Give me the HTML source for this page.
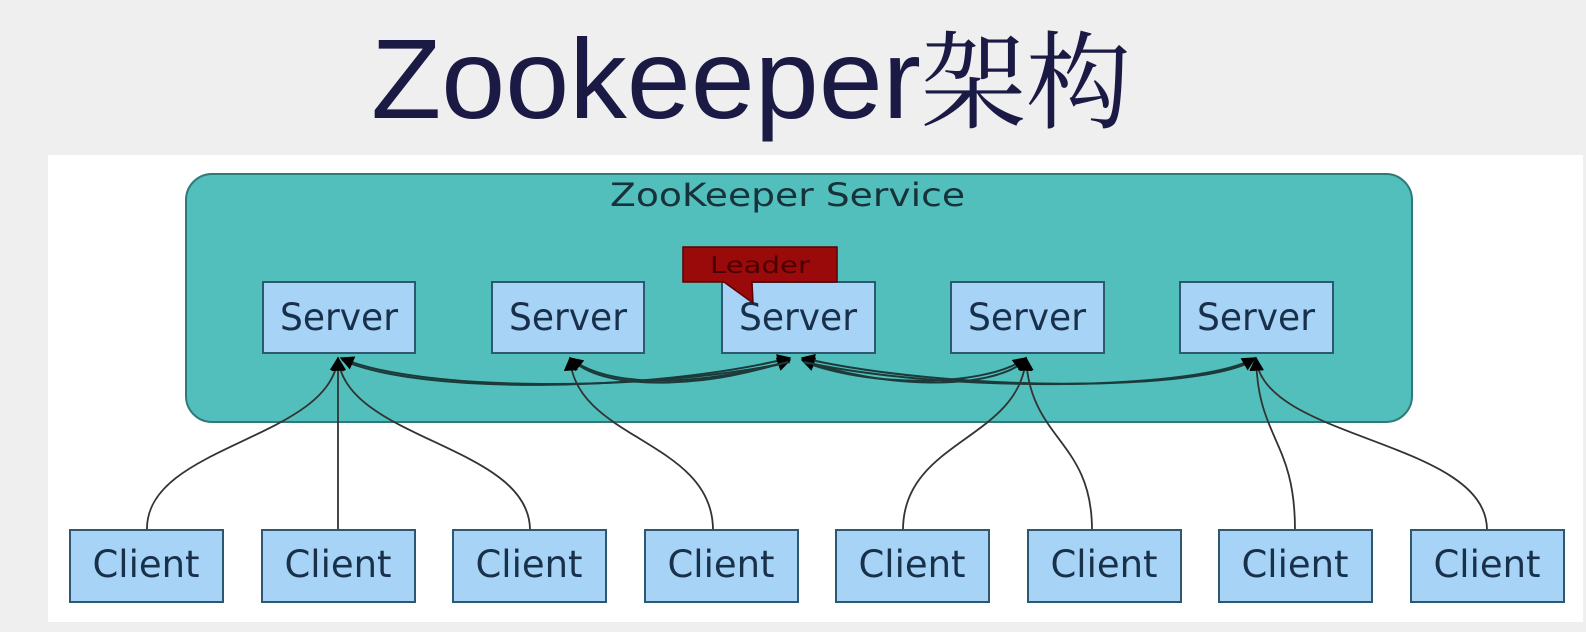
<!DOCTYPE html>
<html><head><meta charset="utf-8"><style>
html,body{margin:0;padding:0;background:#efefef;}
svg{display:block}
</style></head><body>
<svg width="1586" height="632" viewBox="0 0 1586 632" xmlns="http://www.w3.org/2000/svg">
<defs>
<marker id="ab" viewBox="0 0 10 10" refX="9" refY="5" markerWidth="22" markerHeight="14" markerUnits="userSpaceOnUse" orient="auto">
<path d="M0,0 L10,5 L0,10 z" fill="#000"/>
</marker>
</defs>
<rect x="0" y="0" width="1586" height="632" fill="#efefef"/>
<text x="371" y="118" font-family="Liberation Sans, sans-serif" font-size="113" fill="#1a1a45" textLength="550" lengthAdjust="spacingAndGlyphs">Zookeeper</text>
<text x="921" y="120" font-family="Liberation Serif, 'Noto Serif CJK SC', serif" font-size="106" fill="#1a1a45" textLength="210" lengthAdjust="spacingAndGlyphs">架构</text>
<rect x="48" y="155" width="1535" height="467" fill="#ffffff"/>
<rect x="186" y="174" width="1226" height="248" rx="26" fill="#52bfbc" stroke="#2f7a78" stroke-width="2"/>
<text x="610" y="206" font-family="DejaVu Sans, sans-serif" font-size="32" fill="#17323a" textLength="355" lengthAdjust="spacingAndGlyphs">ZooKeeper Service</text>
<g fill="#a6d3f6" stroke="#2e5870" stroke-width="2">
<rect x="263" y="282" width="152" height="71"/>
<rect x="492" y="282" width="152" height="71"/>
<rect x="722" y="282" width="153" height="71"/>
<rect x="951" y="282" width="153" height="71"/>
<rect x="1180" y="282" width="153" height="71"/>
</g>
<g font-family="DejaVu Sans, sans-serif" font-size="37" fill="#18304a" text-anchor="middle">
<text x="339" y="330" textLength="118" lengthAdjust="spacingAndGlyphs">Server</text>
<text x="568" y="330" textLength="118" lengthAdjust="spacingAndGlyphs">Server</text>
<text x="798" y="330" textLength="118" lengthAdjust="spacingAndGlyphs">Server</text>
<text x="1027" y="330" textLength="118" lengthAdjust="spacingAndGlyphs">Server</text>
<text x="1256" y="330" textLength="118" lengthAdjust="spacingAndGlyphs">Server</text>
</g>
<path d="M683,247 L837,247 L837,282 L752,282 L753,303 L724,282 L683,282 z" fill="#9a0a0a" stroke="#5a0000" stroke-width="1.5"/>
<text x="760" y="273" font-family="DejaVu Sans, sans-serif" font-size="23" fill="#4a0000" text-anchor="middle" textLength="100" lengthAdjust="spacingAndGlyphs">Leader</text>
<g fill="none" stroke="#1d3a3a" stroke-width="2">
<path d="M342,360 C420,395 650,392 790,358" marker-end="url(#ab)"/>
<path d="M790,362 C650,392 420,392 341,358" marker-end="url(#ab)"/>
<path d="M572,360 C610,395 720,385 790,360" marker-end="url(#ab)"/>
<path d="M788,362 C700,385 610,390 570,358" marker-end="url(#ab)"/>
<path d="M1026,360 C990,392 880,388 802,360" marker-end="url(#ab)"/>
<path d="M804,362 C880,390 990,385 1026,358" marker-end="url(#ab)"/>
<path d="M1254,360 C1200,392 950,392 802,358" marker-end="url(#ab)"/>
<path d="M804,362 C950,394 1200,390 1255,358" marker-end="url(#ab)"/>
</g>
<g fill="none" stroke="#333" stroke-width="1.8">
<path d="M147,530 C145,445 330,440 338,358" marker-end="url(#ab)"/>
<path d="M338,530 L338,358" marker-end="url(#ab)"/>
<path d="M530,530 C530,445 345,440 338,358" marker-end="url(#ab)"/>
<path d="M713,530 C713,440 575,440 570,358" marker-end="url(#ab)"/>
<path d="M903,530 C903,440 1020,440 1026,358" marker-end="url(#ab)"/>
<path d="M1092,530 C1092,440 1030,440 1026,358" marker-end="url(#ab)"/>
<path d="M1295,530 C1295,440 1258,440 1256,358" marker-end="url(#ab)"/>
<path d="M1487,530 C1487,440 1262,440 1256,358" marker-end="url(#ab)"/>
</g>
<g fill="#a6d3f6" stroke="#2e5870" stroke-width="2">
<rect x="70" y="530" width="153" height="72"/>
<rect x="262" y="530" width="153" height="72"/>
<rect x="453" y="530" width="153" height="72"/>
<rect x="645" y="530" width="153" height="72"/>
<rect x="836" y="530" width="153" height="72"/>
<rect x="1028" y="530" width="153" height="72"/>
<rect x="1219" y="530" width="153" height="72"/>
<rect x="1411" y="530" width="153" height="72"/>
</g>
<g font-family="DejaVu Sans, sans-serif" font-size="37" fill="#18304a" text-anchor="middle">
<text x="146" y="577" textLength="107" lengthAdjust="spacingAndGlyphs">Client</text>
<text x="338" y="577" textLength="107" lengthAdjust="spacingAndGlyphs">Client</text>
<text x="529" y="577" textLength="107" lengthAdjust="spacingAndGlyphs">Client</text>
<text x="721" y="577" textLength="107" lengthAdjust="spacingAndGlyphs">Client</text>
<text x="912" y="577" textLength="107" lengthAdjust="spacingAndGlyphs">Client</text>
<text x="1104" y="577" textLength="107" lengthAdjust="spacingAndGlyphs">Client</text>
<text x="1295" y="577" textLength="107" lengthAdjust="spacingAndGlyphs">Client</text>
<text x="1487" y="577" textLength="107" lengthAdjust="spacingAndGlyphs">Client</text>
</g>
</svg>
</body></html>
